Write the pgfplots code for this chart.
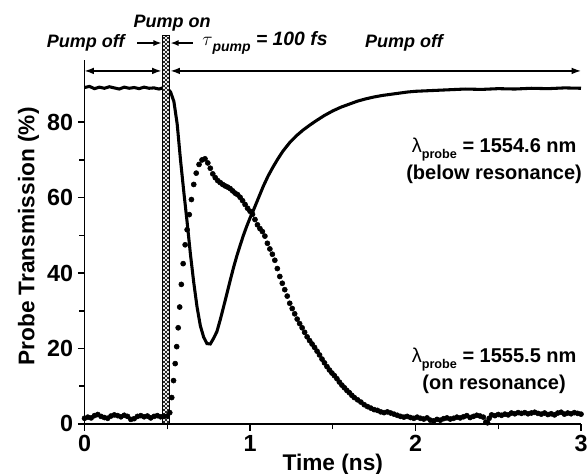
\documentclass[border=0pt]{standalone}
\usepackage{fontspec}
\setmainfont{Liberation Sans}
\usepackage{pgfplots}
\pgfplotsset{compat=1.18}
\usetikzlibrary{patterns,arrows.meta}

% 1554.6 nm probe (below resonance), solid line
\pgfplotstableread{
t T
0.00 89.2
0.03 89.5
0.06 88.9
0.09 89.3
0.12 89.0
0.15 89.4
0.18 89.1
0.21 88.8
0.24 89.3
0.27 89.0
0.30 89.2
0.33 88.9
0.36 89.3
0.39 89.0
0.42 89.1
0.45 88.8
0.48 89.2
0.50 89.0
0.52 88.0
0.54 85.5
0.56 79.5
0.58 70.0
0.60 61.5
0.62 53.5
0.64 45.0
0.66 37.5
0.68 31.0
0.70 26.0
0.72 23.0
0.74 21.3
0.76 21.2
0.78 22.7
0.80 24.5
0.82 27.6
0.84 31.0
0.86 34.5
0.88 38.0
0.90 41.4
0.92 44.5
0.94 47.3
0.96 50.0
0.98 52.4
1.00 54.6
1.02 56.6
1.05 59.8
1.08 63.0
1.11 65.8
1.14 68.2
1.17 70.4
1.20 72.4
1.24 74.6
1.28 76.4
1.32 77.9
1.36 79.2
1.40 80.4
1.45 81.8
1.50 83.0
1.55 84.0
1.60 84.8
1.65 85.6
1.70 86.2
1.75 86.7
1.80 87.1
1.85 87.4
1.90 87.7
1.95 88.0
2.00 88.2
2.10 88.4
2.20 88.6
2.30 88.8
2.40 88.7
2.50 88.9
2.60 88.8
2.70 89.0
2.80 88.9
2.90 89.1
3.00 89.0
}\below

% 1555.5 nm probe (on resonance), dots
\pgfplotstableread{
t T
0.00 1.5
0.02 1.8
0.04 1.6
0.06 2.2
0.08 2.5
0.10 2.0
0.12 1.7
0.14 1.5
0.16 2.1
0.18 2.4
0.20 2.2
0.22 1.9
0.24 2.3
0.26 2.0
0.28 1.2
0.30 1.4
0.32 2.0
0.34 2.2
0.36 1.9
0.38 2.1
0.40 1.6
0.42 2.0
0.44 2.2
0.46 1.9
0.48 2.0
0.50 2.1
0.515 3.0
0.527 7.0
0.538 11.5
0.548 16.0
0.557 20.5
0.566 25.5
0.575 31.0
0.585 37.0
0.596 42.5
0.608 47.5
0.620 51.5
0.633 55.5
0.646 59.5
0.660 63.5
0.675 66.5
0.692 68.8
0.710 70.0
0.728 70.3
0.745 69.2
0.760 67.8
0.775 66.3
0.790 65.3
0.805 64.5
0.820 64.0
0.835 63.5
0.850 63.1
0.865 62.8
0.880 62.4
0.895 61.8
0.910 61.2
0.925 60.8
0.940 60.1
0.955 59.2
0.970 58.2
0.985 57.2
1.000 56.4
1.015 55.6
1.030 54.2
1.045 52.8
1.060 51.8
1.075 51.0
1.090 49.8
1.105 47.9
1.120 46.4
1.135 45.0
1.150 43.4
1.165 41.2
1.180 39.1
1.195 37.3
1.210 35.6
1.225 33.9
1.240 32.0
1.255 30.6
1.270 29.2
1.285 27.8
1.300 26.6
1.315 25.5
1.330 24.3
1.345 23.1
1.360 22.1
1.375 21.2
1.390 20.3
1.405 19.3
1.420 18.3
1.435 17.2
1.450 16.2
1.465 15.2
1.480 14.3
1.495 13.5
1.510 12.8
1.525 12.0
1.540 11.1
1.555 10.3
1.570 9.6
1.585 8.9
1.600 8.3
1.615 7.6
1.630 7.0
1.650 6.4
1.670 5.8
1.690 5.1
1.710 4.6
1.730 4.2
1.750 3.8
1.770 3.6
1.790 3.2
1.810 3.0
1.830 3.2
1.850 2.9
1.870 2.6
1.890 2.3
1.910 2.0
1.930 1.8
1.950 2.0
1.970 1.7
1.990 1.5
2.010 1.8
2.030 1.5
2.050 1.3
2.070 1.6
2.090 1.0
2.110 0.8
2.130 1.2
2.150 1.0
2.170 1.4
2.190 1.6
2.210 1.3
2.230 1.5
2.250 1.8
2.270 1.6
2.290 1.9
2.310 2.2
2.330 1.7
2.350 2.0
2.370 2.3
2.390 2.1
2.410 1.8
2.425 0.5
2.435 0.3
2.445 1.5
2.460 2.4
2.480 2.2
2.500 2.5
2.520 2.3
2.540 2.6
2.560 2.4
2.580 2.9
2.600 2.7
2.620 3.0
2.640 2.8
2.660 3.0
2.680 2.7
2.700 2.9
2.720 3.1
2.740 2.8
2.760 2.6
2.780 2.9
2.800 2.5
2.820 2.7
2.840 2.4
2.860 2.9
2.880 3.1
2.900 2.6
2.920 2.9
2.940 2.7
2.960 3.0
2.980 2.8
3.000 2.6
}\onres

\begin{document}
\begin{tikzpicture}
\begin{axis}[
  at={(0pt,0pt)}, anchor=south west,
  scale only axis, width=372.4pt, height=273pt,
  xmin=0, xmax=3, ymin=0, ymax=96.5,
  axis lines*=left,
  axis line style={line width=1.1pt},
  xtick={0,1,2,3}, minor xtick={0.5,1.5,2.5},
  ytick={0,20,40,60,80}, minor ytick={10,30,50,70},
  tick align=outside,
  major tick length=5pt, minor tick length=4pt,
  every tick/.style={line width=1.1pt, black},
  /pgf/number format/assume math mode=true,
  tick label style={font=\fontsize{17.5}{20}\selectfont\bfseries},
  xlabel={Time (ns)}, ylabel={Probe Transmission (\%)},
  label style={font=\fontsize{17}{20}\selectfont\bfseries},
  xlabel style={at={(axis description cs:0.5,0)}, anchor=center, yshift=-30.5pt},
  ylabel style={at={(axis description cs:0,0.515)}, anchor=center, yshift=42pt},
  clip=false,
]
\addplot[black, line width=2.3pt] table[x=t, y=T] {\below};
\addplot[black, only marks, mark=*, mark size=1.9pt] table[x=t, y=T] {\onres};

% pump pulse bar
\filldraw[fill=white, draw=black, line width=0.8pt] (axis cs:0.47,0) rectangle (axis cs:0.515,103);
\fill[pattern=north east lines] (axis cs:0.47,0) rectangle (axis cs:0.515,103);
\fill[pattern=north west lines] (axis cs:0.47,0) rectangle (axis cs:0.515,103);
\draw[line width=0.8pt] (axis cs:0.47,0) rectangle (axis cs:0.515,103);

% arrows
\draw[line width=1pt, {Latex[length=7pt,width=5pt]}-{Latex[length=7pt,width=5pt]}] (axis cs:0,93.6) -- (axis cs:0.465,93.6);
\draw[line width=1pt, {Latex[length=7pt,width=5pt]}-{Latex[length=7pt,width=5pt]}] (axis cs:0.52,93.6) -- (axis cs:3,93.6);
\draw[line width=1pt, -{Latex[length=6pt,width=4.5pt]}] (axis cs:0.32,101) -- (axis cs:0.465,101);
\draw[line width=1pt, -{Latex[length=6pt,width=4.5pt]}] (axis cs:0.655,101) -- (axis cs:0.52,101);

% labels
\node[font=\fontsize{13.5}{16}\selectfont\bfseries\itshape, anchor=south, inner sep=0pt] at (axis cs:0.53,104) {Pump on};
\node[font=\fontsize{13.5}{16}\selectfont\bfseries\itshape, anchor=east] at (axis cs:0.27,101) {Pump off};
\node[font=\fontsize{13.5}{16}\selectfont\bfseries\itshape] at (axis cs:1.93,101) {Pump off};
\node[font=\fontsize{14.5}{16}\selectfont\bfseries\itshape, anchor=west, inner sep=0pt] at (axis cs:0.71,101)
  {$\tau$\raisebox{-0.6ex}{\fontsize{10.5}{10}\selectfont pump} = 100 fs};
\node[font=\fontsize{15}{20.5}\selectfont\bfseries, align=center] at (axis cs:2.475,69.8)
  {{\mdseries λ}\raisebox{-0.6ex}{\fontsize{9.5}{9}\selectfont probe} = 1554.6 nm\\(below resonance)};
\node[font=\fontsize{15}{20.5}\selectfont\bfseries, align=center] at (axis cs:2.475,14.0)
  {{\mdseries λ}\raisebox{-0.6ex}{\fontsize{9.5}{9}\selectfont probe} = 1555.5 nm\\(on resonance)};
\end{axis}
\pgfresetboundingbox
\useasboundingbox (-63.4pt,-37.5pt) rectangle (376.9pt,318pt);
\end{tikzpicture}
\end{document}
